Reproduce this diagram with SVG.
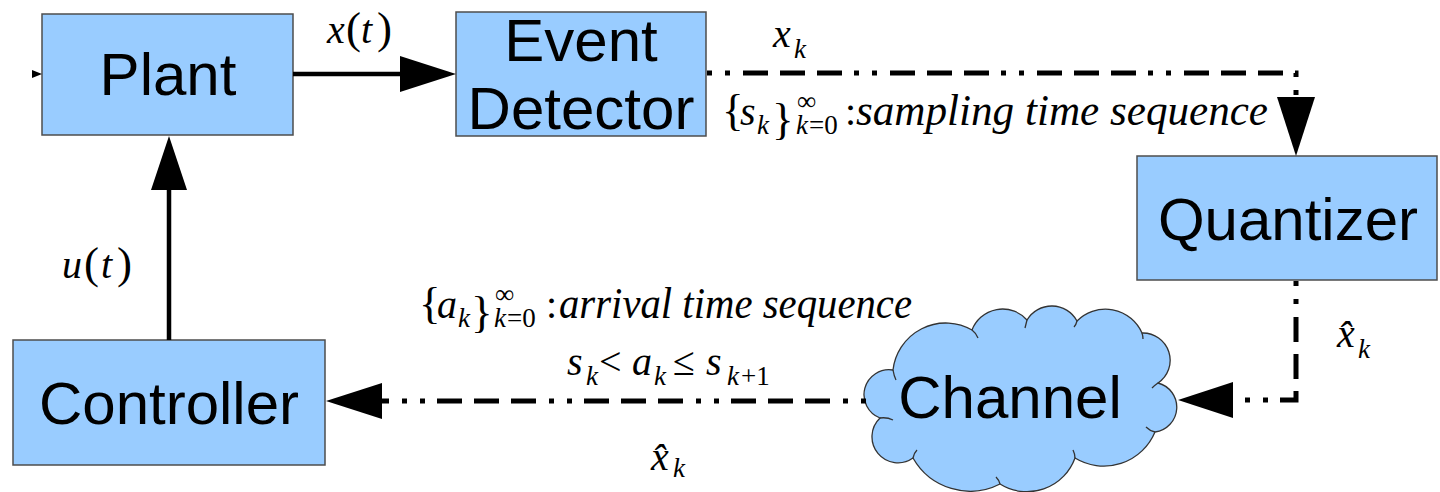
<svg xmlns="http://www.w3.org/2000/svg" width="1440" height="492" viewBox="0 0 1440 492">
<style>
.box{fill:#99ccff;stroke:#4d4d4d;stroke-width:1.5}
.lbl{font-family:"Liberation Sans",Arial,sans-serif;font-size:60px;fill:#000;text-anchor:middle}
.m{font-family:"Liberation Serif","Times New Roman",serif;font-style:italic;font-size:40px;fill:#000}
.up{font-style:normal}
.sub{font-size:27px}
.par{font-style:normal;font-size:45px}
.seq{font-size:44px}
.solid{stroke:#000;stroke-width:4.5;fill:none}
.dd{stroke:#000;stroke-width:5;fill:none;stroke-dasharray:5 13 5 13 25 12 25 12 25 12}
.ah{fill:#000}
.cl{fill:#99ccff;stroke:#333;stroke-width:1.3}
.cli{fill:none;stroke:#333;stroke-width:1.3}
</style>
<g id="plant">
<rect class="box" x="42" y="14" width="251" height="121"/>
<text class="lbl" x="168" y="95">Plant</text>
</g>
<g id="event-detector">
<rect class="box" x="456" y="12" width="250" height="124"/>
<text class="lbl" x="581" y="61">Event</text>
<text class="lbl" x="581" y="129">Detector</text>
</g>
<g id="quantizer">
<rect class="box" x="1137" y="156" width="300" height="124"/>
<text class="lbl" x="1288" y="240">Quantizer</text>
</g>
<g id="controller">
<rect class="box" x="13" y="340" width="312" height="125"/>
<text class="lbl" x="169" y="424">Controller</text>
</g>
<g id="channel">
<path class="cl" d="M893,370 A53,53 0 0 1 972,330 A32.7,32.7 0 0 1 1027,320 A28.8,28.8 0 0 1 1077,321 A40,40 0 0 1 1142,333 A27.3,27.3 0 0 1 1158,383 A25,25 0 0 1 1155,432 A55.4,55.4 0 0 1 1075,458 A51,51 0 0 1 1000,484 A65.7,65.7 0 0 1 913,458 A26,26 0 0 1 880,418 A25,25 0 0 1 893,370 Z"/>
<path class="cli" d="M893,370 q1,6 3,10 M972,330 q4,3 6,8 M1027,320 q-1,4 -2,8 M1077,321 q-1,4 -3,6 M1142,333 q1,3 1,6 M1158,383 q-3,2 -6,5 M1155,432 q-5,-1 -9,-5 M1075,458 q0,-4 -2,-8 M1000,484 q-1,-4 -4,-7 M913,458 q1,-5 4,-8 M880,418 q7,-1 13,2"/>
<text class="lbl" x="1010" y="418">Channel</text>
</g>
<g id="connectors">
<polygon class="ah" points="32,70 42,74 32,78"/>
<line class="solid" x1="293" y1="74" x2="402" y2="74"/>
<polygon class="ah" points="400,56 456,74 400,92"/>
<line class="solid" x1="169" y1="340" x2="169" y2="188"/>
<polygon class="ah" points="151,190 169,136 187,190"/>
<path class="dd" d="M707,73 H1296 V98"/>
<polygon class="ah" points="1277,97 1315,97 1296,156"/>
<path class="dd" d="M1296,281 V400 H1233"/>
<polygon class="ah" points="1233,382 1233,418 1178,400"/>
<path class="dd" d="M866,401 H382"/>
<polygon class="ah" points="382,383 382,419 326,401"/>
</g>
<g id="labels">
<text class="m" y="43"><tspan x="327">x</tspan><tspan class="par" x="346">(</tspan><tspan x="361">t</tspan><tspan class="par" x="377">)</tspan></text>
<text class="m" y="47"><tspan x="773">x</tspan><tspan class="sub" x="794" y="58">k</tspan></text>
<text class="m" y="125"><tspan class="par" x="722">{</tspan><tspan x="740">s</tspan><tspan class="sub" x="757" y="134">k</tspan><tspan class="par" x="772">}</tspan><tspan class="sub up" x="797" y="110">∞</tspan><tspan class="sub" x="796" y="134">k</tspan><tspan class="sub up" x="809" y="134">=0</tspan><tspan class="up" x="845" y="125">:</tspan><tspan class="seq" x="856" y="125" textLength="412" lengthAdjust="spacingAndGlyphs">sampling time sequence</tspan></text>
<text class="m" y="347"><tspan x="1337">x̂</tspan><tspan class="sub" x="1358" y="358">k</tspan></text>
<text class="m" y="278"><tspan x="62">u</tspan><tspan class="par" x="84">(</tspan><tspan x="101">t</tspan><tspan class="par" x="117">)</tspan></text>
<text class="m" y="318"><tspan class="par" x="419">{</tspan><tspan x="437">a</tspan><tspan class="sub" x="458" y="327">k</tspan><tspan class="par" x="471">}</tspan><tspan class="sub up" x="495" y="303">∞</tspan><tspan class="sub" x="494" y="327">k</tspan><tspan class="sub up" x="507" y="327">=0</tspan><tspan class="up" x="546" y="318">:</tspan><tspan class="seq" x="559" y="318" textLength="353" lengthAdjust="spacingAndGlyphs">arrival time sequence</tspan></text>
<text class="m" y="375"><tspan x="567">s</tspan><tspan class="sub" x="586" y="385">k</tspan><tspan class="up" x="599" y="375">&lt;</tspan><tspan x="632" y="375">a</tspan><tspan class="sub" x="654" y="385">k</tspan><tspan class="up" x="673" y="375">≤</tspan><tspan x="706" y="375">s</tspan><tspan class="sub" x="727" y="385">k</tspan><tspan class="sub up" x="741" y="385">+1</tspan></text>
<text class="m" y="470"><tspan x="651">x̂</tspan><tspan class="sub" x="673" y="477">k</tspan></text>
</g>
</svg>
